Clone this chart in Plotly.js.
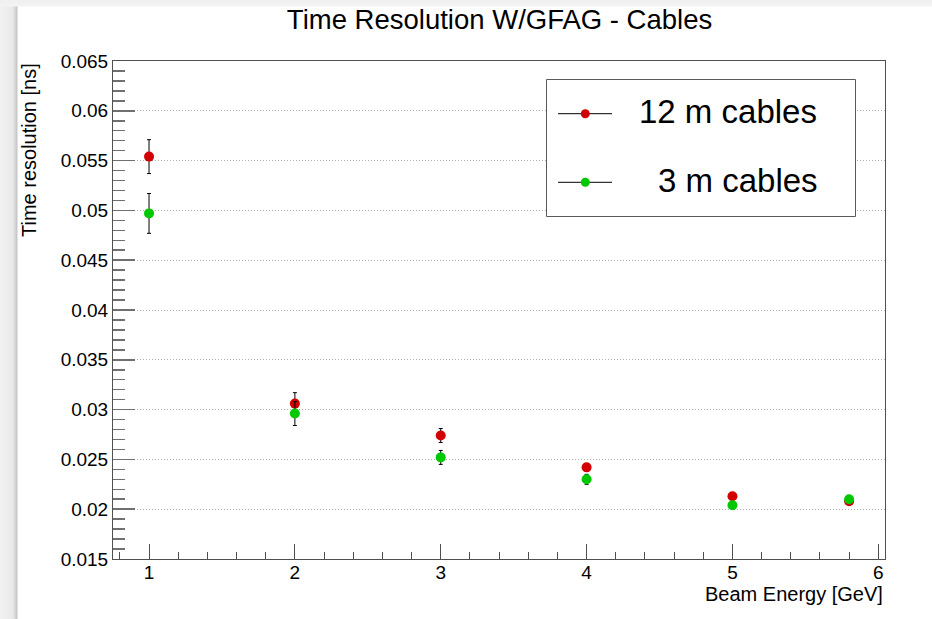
<!DOCTYPE html>
<html>
<head>
<meta charset="utf-8">
<script src="https://cdn.plot.ly/plotly-3.0.1.min.js"></script>
<style>
  html, body { margin: 0; padding: 0; background: #ffffff; }
  #frame {
    width: 932px; height: 619px; position: relative;
    background:
      linear-gradient(to bottom, #efefef 0px, #f3f3f3 6px, rgba(255,255,255,0) 7px),
      linear-gradient(to right, #f2f2f2 0px, #e9e9e9 13px, #c4c4c4 17px, #ffffff 18px);
  }
  #chart { width: 932px; height: 619px; }
</style>
</head>
<body>
<div id="frame"><div id="chart"></div></div>
<script>
// Beam energies (GeV)
const energy = [1, 2, 3, 4, 5, 5.8];

// Time resolution (ns) with 12 m cables
const res12 = [0.0554, 0.0306, 0.0274, 0.0242, 0.0213, 0.0208];
const err12 = [0.0017, 0.0011, 0.0007, 0.0003, 0.0002, 0.0002];

// Time resolution (ns) with 3 m cables
const res3 = [0.0497, 0.0296, 0.0252, 0.0230, 0.0204, 0.0210];
const err3 = [0.0020, 0.0012, 0.0007, 0.0005, 0.0002, 0.0002];

const seriesNames = ['12 m cables', '3 m cables'];

// Axis ticks
const yTickVals = [0.015, 0.02, 0.025, 0.03, 0.035, 0.04, 0.045, 0.05, 0.055, 0.06, 0.065];
const yTickText = ['0.015', '0.02', '0.025', '0.03', '0.035', '0.04', '0.045', '0.05', '0.055', '0.06', '0.065'];
const xTickVals = [1, 2, 3, 4, 5, 6];
const xTickText = ['1', '2', '3', '4', '5', '6'];

const RED = '#d20000';
const GREEN = '#00c800';
const FONT = 'Liberation Sans, Arial, Helvetica, sans-serif';

// plot-area geometry in pixels, used to place the legend box
const PL = 113, PT = 61, PW = 772, PH = 498;
const fx = px => (px - PL) / PW;
const fy = py => (PT + PH - py) / PH;

function series(y, err, color, name) {
  return {
    x: energy, y: y, name: name, type: 'scatter', mode: 'markers',
    marker: { color: color, size: 10, line: { width: 0 } },
    error_y: { type: 'data', array: err, visible: true, color: '#000000', thickness: 1, width: 2 },
    showlegend: false, cliponaxis: false
  };
}

const traces = [
  series(res12, err12, RED, seriesNames[0]),
  series(res3, err3, GREEN, seriesNames[1])
];

// hand-built legend box in the upper right of the frame
const legendRows = [
  { name: seriesNames[0], color: RED, cy: 113.7, tx: 637 },
  { name: seriesNames[1], color: GREEN, cy: 182.3, tx: 656 }
];

const shapes = [
  { type: 'rect', xref: 'paper', yref: 'paper',
    x0: fx(546.5), x1: fx(855.5), y0: fy(216.5), y1: fy(79.5),
    line: { color: '#5a5a5a', width: 1 }, fillcolor: '#ffffff', layer: 'above' }
];
const annotations = [];
legendRows.forEach(r => {
  shapes.push({ type: 'line', xref: 'paper', yref: 'paper',
    x0: fx(558), x1: fx(612), y0: fy(r.cy), y1: fy(r.cy),
    line: { color: '#000000', width: 1 }, layer: 'above' });
  shapes.push({ type: 'circle', xref: 'paper', yref: 'paper',
    xsizemode: 'pixel', ysizemode: 'pixel', xanchor: fx(585.3), yanchor: fy(r.cy),
    x0: -4.5, x1: 4.5, y0: -4.5, y1: 4.5,
    fillcolor: r.color, line: { width: 0 }, layer: 'above' });
  annotations.push({ xref: 'paper', yref: 'paper', x: fx(r.tx), y: fy(r.cy - 2),
    xanchor: 'left', yanchor: 'middle', showarrow: false, text: r.name,
    font: { family: FONT, size: 33, color: '#000000' } });
});

// axis titles (ROOT style: y title at top, x title at right)
annotations.push({ xref: 'paper', yref: 'paper', x: fx(29), y: 1, xanchor: 'center', yanchor: 'top',
  textangle: -90, showarrow: false, text: 'Time resolution [ns]',
  font: { family: FONT, size: 20, color: '#000000' } });
annotations.push({ xref: 'paper', yref: 'paper', x: 1, y: fy(594), xanchor: 'right', yanchor: 'middle',
  showarrow: false, text: 'Beam Energy [GeV]',
  font: { family: FONT, size: 20, color: '#000000' } });

const layout = {
  width: 932, height: 619,
  margin: { l: PL, r: 932 - PL - PW, t: PT, b: 619 - PT - PH, pad: 0 },
  paper_bgcolor: 'rgba(0,0,0,0)',
  plot_bgcolor: '#ffffff',
  title: { text: 'Time Resolution W/GFAG - Cables', x: 0.536, xref: 'container', xanchor: 'center',
    y: 1 - 19 / 619, yref: 'container', yanchor: 'middle',
    font: { family: FONT, size: 27.5, color: '#000000' } },
  xaxis: {
    range: [0.753, 6.046], showline: true, mirror: true, linecolor: '#505050', linewidth: 1,
    zeroline: false, showgrid: false,
    tickmode: 'array', tickvals: xTickVals, ticktext: xTickText,
    ticks: 'inside', ticklen: 15, tickcolor: '#505050', tickwidth: 1,
    ticklabelstandoff: -4,
    tickfont: { family: FONT, size: 19, color: '#000000' },
    minor: { tickmode: 'linear', tick0: 0, dtick: 0.2, ticks: 'inside', ticklen: 7, tickcolor: '#505050', showgrid: false }
  },
  yaxis: {
    range: [0.015, 0.065], showline: true, mirror: true, linecolor: '#505050', linewidth: 1,
    zeroline: false, showgrid: true, gridcolor: '#b0b0b0', griddash: '1px,2px', gridwidth: 1,
    tickmode: 'array', tickvals: yTickVals, ticktext: yTickText,
    ticks: 'inside', ticklen: 22, tickcolor: '#707070', tickwidth: 1.5,
    tickfont: { family: FONT, size: 19, color: '#000000' },
    minor: { tickmode: 'linear', tick0: 0, dtick: 0.001, ticks: 'inside', ticklen: 12, tickcolor: '#707070', tickwidth: 1.5, showgrid: false }
  },
  shapes: shapes,
  annotations: annotations,
  showlegend: false
};

Plotly.newPlot('chart', traces, layout, { displayModeBar: false, staticPlot: true });
</script>
</body>
</html>
